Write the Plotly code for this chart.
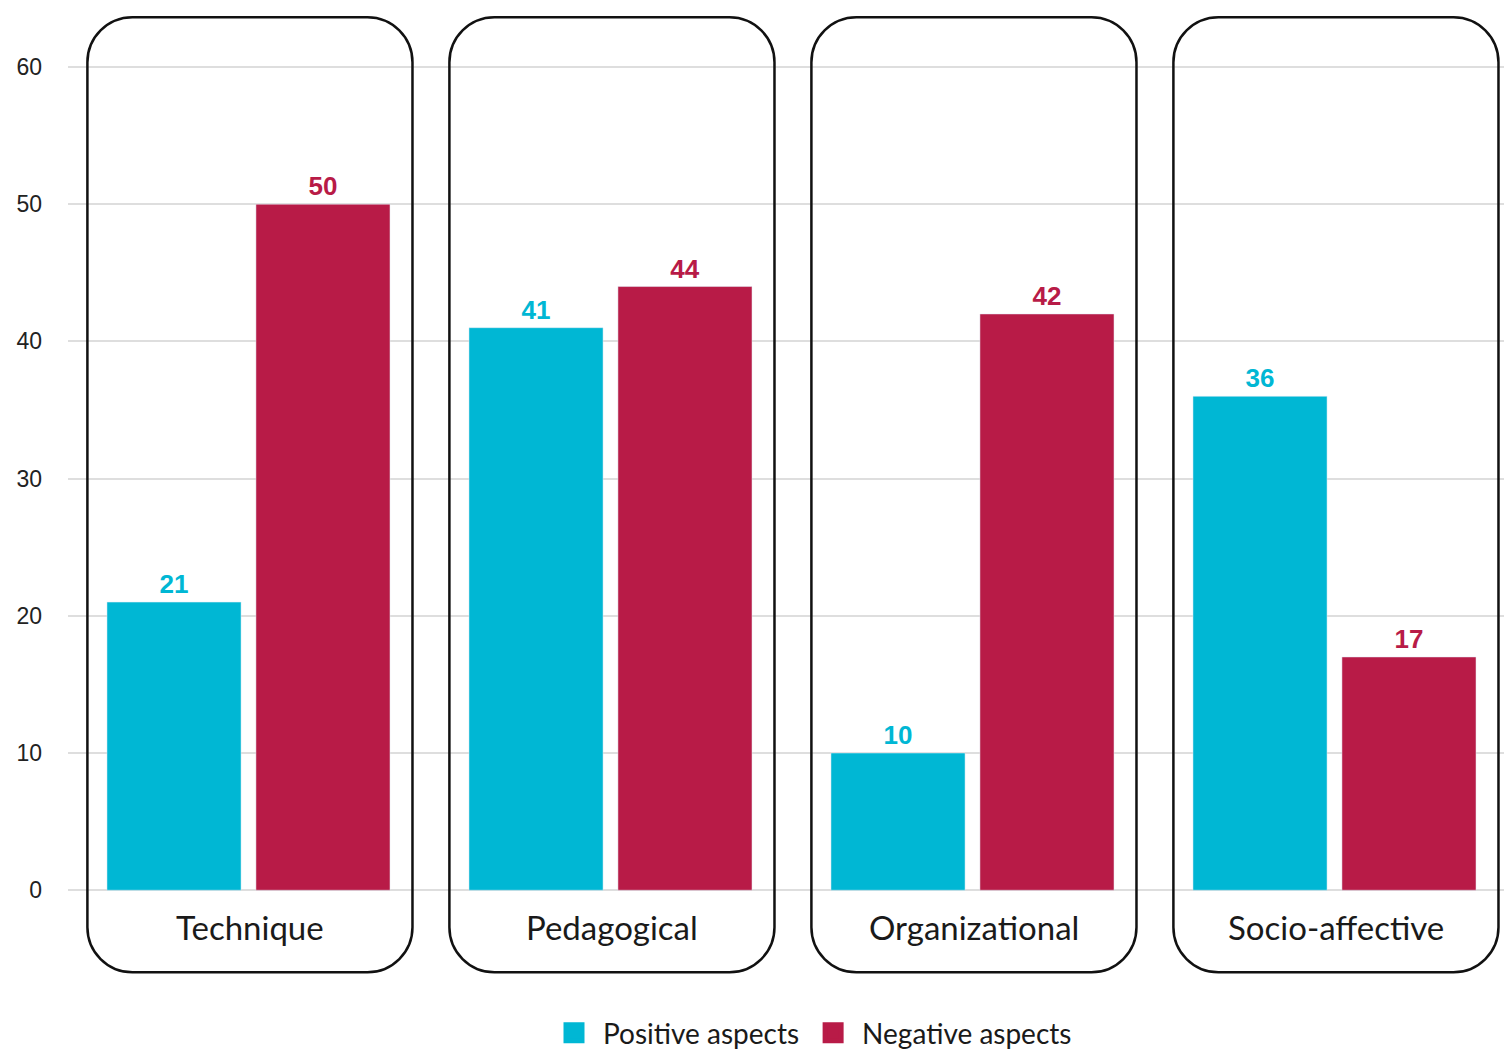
import plotly.graph_objects as go

# Categories and counts per aspect
categories = ["Technique", "Pedagogical", "Organizational", "Socio-affective"]
positive = [21, 41, 10, 36]
negative = [50, 44, 42, 17]
y_ticks = [0, 10, 20, 30, 40, 50, 60]

POS_COLOR = "#00B7D4"
NEG_COLOR = "#B81B47"

W, H = 1504, 1052
M_L, M_R, M_T, M_B = 68, 0, 12, 74
plot_w = W - M_L - M_R
plot_h = H - M_T - M_B

# axis ranges (data units)
x_range = [-0.4986, -0.4986 + plot_w / 362.0]
px_per_y = 137.2 / 10.0
y_top = 64.01
y_range = [y_top - plot_h / px_per_y, y_top]
px_per_x = plot_w / (x_range[1] - x_range[0])

xs = list(range(len(categories)))

fig = go.Figure()
fig.add_trace(go.Bar(
    x=xs, y=positive, name="Positive aspects", marker_color=POS_COLOR,
    texttemplate="<b>%{y}</b>", textposition="outside", cliponaxis=False,
    textfont=dict(family="Liberation Sans", size=26, color=POS_COLOR),
    showlegend=False,
))
fig.add_trace(go.Bar(
    x=xs, y=negative, name="Negative aspects", marker_color=NEG_COLOR,
    texttemplate="<b>%{y}</b>", textposition="outside", cliponaxis=False,
    textfont=dict(family="Liberation Sans", size=26, color=NEG_COLOR),
    showlegend=False,
))

# legend entries with larger square swatches
for name, col in [("Positive aspects", POS_COLOR), ("Negative aspects", NEG_COLOR)]:
    fig.add_trace(go.Scatter(
        x=[None], y=[None], mode="markers", name=name,
        marker=dict(symbol="square", size=16, color=col, line=dict(color=col, width=5)),
    ))


def rounded_box(cx, half_w, y0, y1, r_px):
    """Rounded rectangle path in data coordinates with circular corners in pixels."""
    x0, x1 = cx - half_w, cx + half_w
    rx = r_px / px_per_x
    ry = r_px / px_per_y
    k = 0.5523
    return (
        f"M {x0 + rx},{y1} L {x1 - rx},{y1} "
        f"C {x1 - rx + k * rx},{y1} {x1},{y1 - ry + k * ry} {x1},{y1 - ry} "
        f"L {x1},{y0 + ry} "
        f"C {x1},{y0 + ry - k * ry} {x1 - rx + k * rx},{y0} {x1 - rx},{y0} "
        f"L {x0 + rx},{y0} "
        f"C {x0 + rx - k * rx},{y0} {x0},{y0 + ry - k * ry} {x0},{y0 + ry} "
        f"L {x0},{y1 - ry} "
        f"C {x0},{y1 - ry + k * ry} {x0 + rx - k * rx},{y1} {x0 + rx},{y1} Z"
    )


box_top = (890 - 17) / px_per_y
box_bottom = (890 - 972) / px_per_y
for i, cat in enumerate(categories):
    fig.add_shape(
        type="path", xref="x", yref="y",
        path=rounded_box(i + 0.004, 0.449, box_bottom, box_top, 45),
        line=dict(color="#111111", width=2.5), fillcolor="rgba(0,0,0,0)", layer="above",
    )
    fig.add_annotation(
        x=i + 0.004, y=-37 / px_per_y, xref="x", yref="y", text=cat, showarrow=False,
        font=dict(family="Lato", size=33, color="#1a1a1a"), yanchor="middle",
    )

fig.update_layout(
    width=W, height=H,
    margin=dict(l=M_L, r=M_R, t=M_T, b=M_B, autoexpand=False),
    plot_bgcolor="white", paper_bgcolor="white",
    barmode="group", bargap=0.177, bargroupgap=0.1,
    showlegend=True,
    legend=dict(
        orientation="h", x=(811 - M_L) / plot_w, xanchor="center",
        y=-(1033 - (H - M_B)) / plot_h, yanchor="middle",
        font=dict(family="Lato", size=28, color="#1a1a1a"),
        itemwidth=48,
    ),
    xaxis=dict(
        range=x_range, showticklabels=False, showgrid=False, zeroline=False,
        showline=False, ticks="",
    ),
    yaxis=dict(
        range=y_range, tickvals=y_ticks, ticktext=[str(v) for v in y_ticks],
        showgrid=True, gridcolor="#dedede", gridwidth=2, zeroline=False,
        showline=False, ticks="", ticklabelstandoff=25,
        tickfont=dict(family="Liberation Sans", size=23, color="#222222"),
    ),
)

fig.write_html("out.html")
